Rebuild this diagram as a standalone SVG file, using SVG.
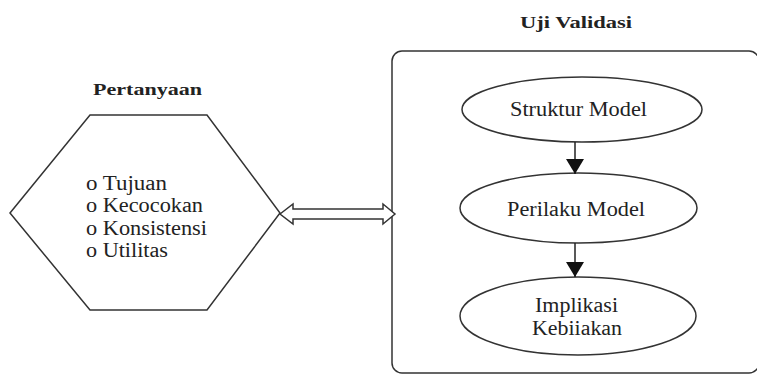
<svg xmlns="http://www.w3.org/2000/svg" width="757" height="376" viewBox="0 0 757 376">
<style>
.shape{fill:#fff;stroke:#333;stroke-width:1.5}
.title{font-family:"Liberation Serif",serif;font-weight:bold;font-size:17px;fill:#222}
.lbl{font-family:"Liberation Serif",serif;font-size:20px;fill:#222}
.conn{stroke:#222;stroke-width:1.5;fill:none}
</style>
<defs>
<marker id="ah" viewBox="0 0 15 18" refX="15" refY="9" markerWidth="15" markerHeight="18" markerUnits="userSpaceOnUse" orient="auto">
<path d="M0,0 L15,9 L0,18 Z" fill="#111"/>
</marker>
</defs>
<rect width="757" height="376" fill="#fff"/>
<g id="pertanyaan">
<text class="title" x="93" y="95" textLength="109" lengthAdjust="spacingAndGlyphs">Pertanyaan</text>
<polygon class="shape" points="10,213 90,115 207,115 280,213 207,310 90,310"/>
<text class="lbl" x="86" y="190" textLength="81" lengthAdjust="spacingAndGlyphs">o Tujuan</text>
<text class="lbl" x="86" y="212" textLength="117" lengthAdjust="spacingAndGlyphs">o Kecocokan</text>
<text class="lbl" x="86" y="235" textLength="121" lengthAdjust="spacingAndGlyphs">o Konsistensi</text>
<text class="lbl" x="86" y="257" textLength="82" lengthAdjust="spacingAndGlyphs">o Utilitas</text>
</g>
<g id="uji-validasi">
<text class="title" x="520" y="28" textLength="112" lengthAdjust="spacingAndGlyphs">Uji Validasi</text>
<rect class="shape" x="392" y="51" width="367" height="322" rx="10" ry="10"/>
</g>
<g id="struktur">
<ellipse class="shape" cx="582" cy="109.5" rx="120" ry="32.5"/>
<text class="lbl" x="510" y="116" textLength="137" lengthAdjust="spacingAndGlyphs">Struktur Model</text>
</g>
<g id="perilaku">
<ellipse class="shape" cx="578.5" cy="208" rx="118.5" ry="35"/>
<text class="lbl" x="507" y="216" textLength="138" lengthAdjust="spacingAndGlyphs">Perilaku Model</text>
</g>
<g id="implikasi">
<ellipse class="shape" cx="578" cy="316" rx="118" ry="39"/>
<text class="lbl" x="535" y="312" textLength="83" lengthAdjust="spacingAndGlyphs">Implikasi</text>
<text class="lbl" x="532" y="335" textLength="90" lengthAdjust="spacingAndGlyphs">Kebiiakan</text>
</g>
<g id="connectors">
<polygon class="shape" points="280,214 293,204 293,209 383,209 383,204 395,214 383,224 383,219 293,219 293,224"/>
<line class="conn" x1="575" y1="142" x2="575" y2="174" marker-end="url(#ah)"/>
<line class="conn" x1="575" y1="243" x2="575" y2="277" marker-end="url(#ah)"/>
</g>
</svg>
